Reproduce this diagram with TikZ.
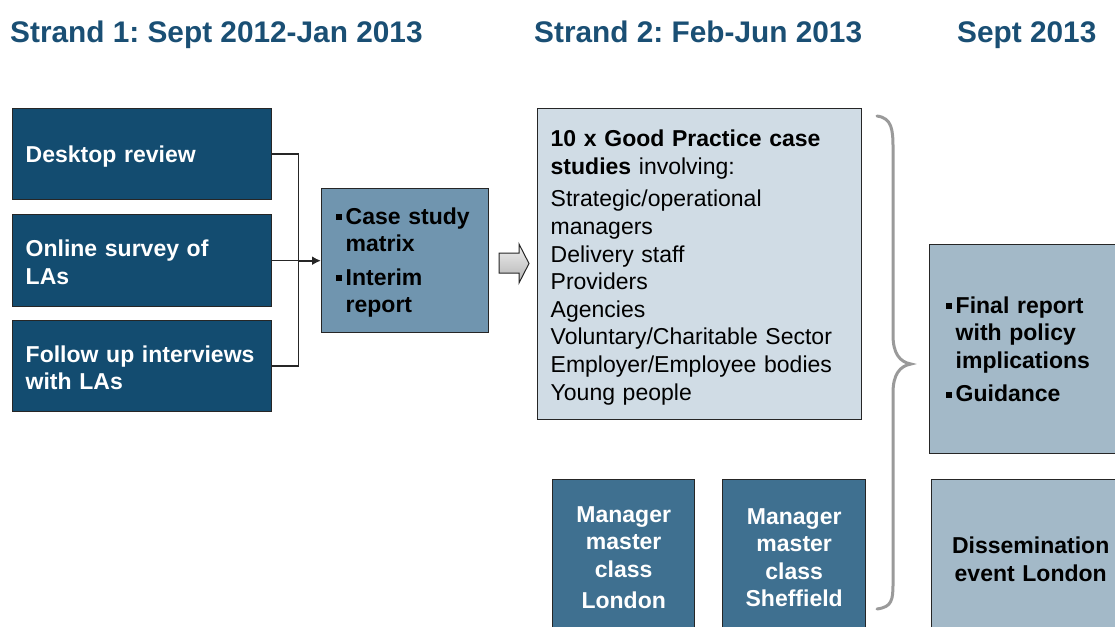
\documentclass[tikz,border=0pt]{standalone}
\usepackage{fontspec}
\setmainfont{Liberation Sans}
\frenchspacing
\usetikzlibrary{arrows.meta}
\definecolor{titleblue}{HTML}{1A4F74}
\definecolor{darkbox}{HTML}{134C70}
\definecolor{midbox}{HTML}{7095AF}
\definecolor{lightbox}{HTML}{D0DCE5}
\definecolor{mgrbox}{HTML}{3F7090}
\definecolor{outbox}{HTML}{A3B9C8}
\definecolor{edgec}{HTML}{262626}
\definecolor{bracec}{HTML}{9A9A9A}
\newcommand{\sqb}{\makebox[10pt][l]{\rule[4pt]{6pt}{6pt}}}
\newcommand{\hin}{\hspace*{10pt}}
\newcommand{\topstr}[1]{\rule{0pt}{#1}}
\tikzset{
  box/.style={draw=edgec, line width=1.4pt, rectangle, anchor=north west,
    inner ysep=0pt, font=\fontsize{23}{27.6}\selectfont},
  darkb/.style={box, fill=darkbox, text=white, font=\fontsize{23}{27.6}\selectfont\bfseries, align=left},
  midb/.style={box, fill=midbox, text=black, font=\fontsize{23}{27}\selectfont\bfseries, align=left},
  lightb/.style={box, fill=lightbox, text=black, align=left},
  mgrb/.style={box, fill=mgrbox, text=white, font=\fontsize{23}{27.6}\selectfont\bfseries, align=center, inner xsep=0pt},
  outb/.style={box, fill=outbox, text=black, font=\fontsize{23}{27.6}\selectfont\bfseries},
  titletext/.style={anchor=base west, inner sep=0pt, text=titleblue, font=\fontsize{29.8}{34}\selectfont\bfseries},
  conn/.style={draw=edgec, line width=1.5pt},
}
\begin{document}
\begin{tikzpicture}[x=1pt,y=-1pt]
\useasboundingbox (0,0) rectangle (1115,626);
\clip (0,0) rectangle (1115,626);

% titles
\node[titletext] (t1) at (10,42) {Strand 1: Sept 2012-Jan 2013};
\node[titletext] (t2) at (534,42) {Strand 2: Feb-Jun 2013};
\node[titletext] (t3) at (957,42) {Sept 2013};

% strand 1 boxes
\node[darkb, inner xsep=13pt, minimum width=259pt, minimum height=91pt, text width=233pt] (desk) at (12,108) {\topstr{21pt}Desktop review};
\node[darkb, inner xsep=13pt, minimum width=259pt, minimum height=92pt, text width=233pt] (onl) at (12,214) {\topstr{20pt}Online survey of\\LAs};
\node[darkb, inner xsep=13pt, minimum width=259pt, minimum height=91pt, text width=233pt] (fol) at (12,320) {\topstr{20pt}Follow up interviews\\with LAs};

\node[midb, inner xsep=14pt, minimum width=167pt, minimum height=144pt, text width=139pt] (case) at (321,188)
  {\topstr{20pt}\sqb Case study\\\hin matrix\\[7pt]\sqb Interim\\\hin report};

% connectors
\path (desk.east) ++(26,0) coordinate (jt);
\path (fol.east) ++(26,0) coordinate (jb);
\coordinate (jm) at (jt |- case.west);
\draw[conn] (desk.east) -- (jt) -- (jb) -- (fol.east);
\draw[conn] (onl.east) -- (jm);
\draw[conn, line width=2.4pt, -{Latex[length=9pt,width=9pt]}] (jm) -- (case.west);

% block arrow
\shade[top color=gray!12, bottom color=gray!60, draw=edgec, line width=1pt]
  (499,253) -- (519,253) -- (519,244) -- (529,263.5) -- (519,283) -- (519,273) -- (499,273) -- cycle;

% strand 2 big box
\node[lightb, inner xsep=13pt, minimum width=324pt, minimum height=311pt, text width=298pt] (gp) at (537,108)
  {\topstr{23pt}\textbf{10 x Good Practice case}\\\textbf{studies} involving:\\[5pt]
   Strategic/operational\\managers\\Delivery staff\\Providers\\Agencies\\Voluntary/Charitable Sector\\Employer/Employee bodies\\Young people};

% manager boxes
\node[mgrb, minimum width=142pt, minimum height=156pt, text width=142pt] (mlon) at (552,479)
  {Manager\\master\\class\\[4pt]London};
\node[mgrb, minimum width=143pt, minimum height=156pt, text width=143pt] (mshe) at (722,479)
  {Manager\\master\\class\\Sheffield};

% brace
\draw[bracec, line width=3pt, line cap=round]
  (877,116) .. controls (892,118) and (893,130) .. (893,148) -- (893,335)
  .. controls (893,354) and (900,362) .. (911,364)
  .. controls (900,366) and (893,374) .. (893,393) -- (893,583)
  .. controls (893,600) and (892,607) .. (877,609);

% Sept 2013 boxes
\node[outb, align=left, inner xsep=16pt, minimum width=211pt, minimum height=209pt, text width=179pt] (fin) at (929,244)
  {\sqb Final report\\\hin with policy\\\hin implications\\[6pt]\sqb Guidance};
\node[outb, align=center, inner xsep=0pt, minimum width=198pt, minimum height=159pt, text width=198pt] (dis) at (931,479)
  {Dissemination\\event London};
\end{tikzpicture}
\end{document}
